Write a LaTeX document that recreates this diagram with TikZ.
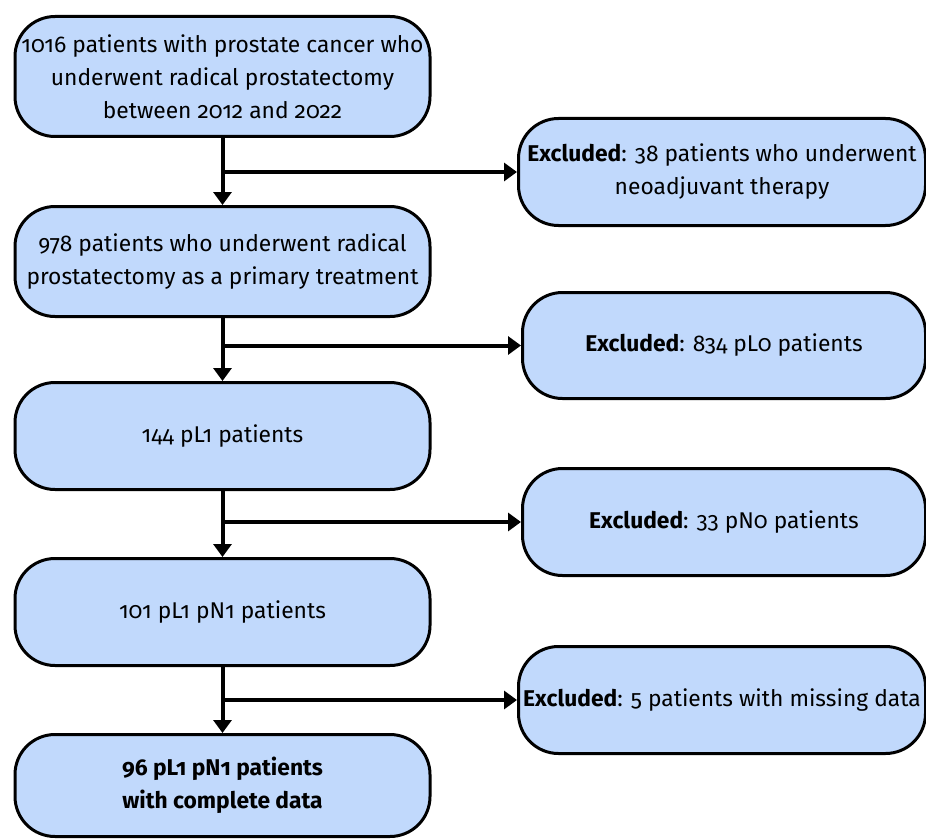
\documentclass[tikz,border=0pt]{standalone}
\usepackage{fontspec}
\setmainfont{Fira Sans}[Numbers=OldStyle]
\usetikzlibrary{arrows.meta}
\definecolor{boxblue}{RGB}{193,217,252}
\begin{document}
\begin{tikzpicture}[x=1pt,y=-1pt,
  box/.style={draw=black, line width=3pt, fill=boxblue, rounded corners=40pt,
    align=center, font=\fontsize{22.8}{33}\selectfont, inner sep=0pt},
  conn/.style={line width=4pt, -{Triangle[width=18pt,length=13pt]}}]
\useasboundingbox (0,0) rectangle (926,840);
% left column
\node[box, minimum width=415pt, minimum height=120pt] (b1) at (222.5,76.5)
  {1016 patients with prostate cancer who\\underwent radical prostatectomy\\between 2012 and 2022};
\node[box, minimum width=415pt, minimum height=110pt] (b2) at (222.5,261.5)
  {978 patients who underwent radical\\prostatectomy as a primary treatment};
\node[box, minimum width=415pt, minimum height=107pt] (b3) at (222.5,436)
  {144 pL1 patients};
\node[box, minimum width=415pt, minimum height=107pt] (b4) at (222.5,612)
  {101 pL1 pN1 patients};
\node[box, minimum width=415pt, minimum height=102pt] (b5) at (222.5,785.5)
  {\bfseries 96 pL1 pN1 patients\\\bfseries with complete data};
% right column
\node[box, minimum width=407pt, minimum height=107pt] (r1) at (722,172)
  {\textbf{Excluded}: 38 patients who underwent\\neoadjuvant therapy};
\node[box, minimum width=403pt, minimum height=106pt] (r2) at (724,345.5)
  {\textbf{Excluded}: 834 pL0 patients};
\node[box, minimum width=403pt, minimum height=107pt] (r3) at (724,522)
  {\textbf{Excluded}: 33 pN0 patients};
\node[box, minimum width=407pt, minimum height=107pt] (r4) at (722,700)
  {\textbf{Excluded}: 5 patients with missing data};
% connectors
\draw[conn] (b1.south) -- (b2.north);
\draw[conn] (b1.south |- r1.west) -- (r1.west);
\draw[conn] (b2.south) -- (b3.north);
\draw[conn] (b2.south |- r2.west) -- (r2.west);
\draw[conn] (b3.south) -- (b4.north);
\draw[conn] (b3.south |- r3.west) -- (r3.west);
\draw[conn] (b4.south) -- (b5.north);
\draw[conn] (b4.south |- r4.west) -- (r4.west);
\end{tikzpicture}
\end{document}
